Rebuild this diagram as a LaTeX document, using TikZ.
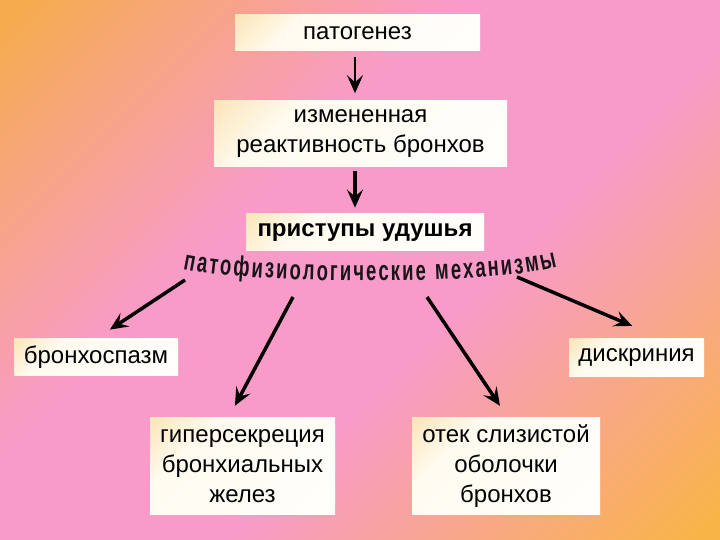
\documentclass[tikz,border=0pt]{standalone}
\usepackage{fontspec}
\setmainfont{Liberation Sans}
\newfontfamily\arcfont{Liberation Sans}[FakeStretch=0.66]
\usetikzlibrary{positioning,arrows.meta,decorations.text}
\definecolor{bgorange}{RGB}{246,172,78}
\definecolor{bgpink}{RGB}{248,155,200}
\definecolor{bgamber}{RGB}{249,180,72}
\definecolor{boxtint}{RGB}{251,228,182}
\definecolor{boxcream}{RGB}{255,251,240}
\definecolor{arcink}{RGB}{25,20,25}
\pgfdeclarehorizontalshading{slidebg}{100bp}{color(0bp)=(bgorange); color(16bp)=(bgorange); color(40bp)=(bgpink); color(58bp)=(bgpink); color(84bp)=(bgamber); color(100bp)=(bgamber)}
\pgfdeclarehorizontalshading{boxglow}{100bp}{color(0bp)=(boxtint); color(14bp)=(boxtint); color(32bp)=(boxcream); color(100bp)=(white)}

\begin{document}
\begin{tikzpicture}[
    x=1pt, y=1pt,
    box/.style={rectangle, shading=boxglow, shading angle=-45, align=center, inner sep=2pt, font=\fontsize{24}{30}\selectfont},
    arrow/.style={line width=3.5pt, -{Stealth[length=18pt, width=16pt, inset=7pt]}}
]
  % Background
  \shade [shading=slidebg, shading angle=-45] (0,0) rectangle (720,540);
  \useasboundingbox (0,0) rectangle (720,540);

  % Nodes
  \node (patog) [box, minimum width=245pt, minimum height=36pt] at (357.5,507) {патогенез};
  \node (reakt) [box, minimum width=293pt, minimum height=66pt, below=49pt of patog, xshift=3pt] {измененная\\реактивность бронхов};
  \node (prist) [box, minimum width=238pt, minimum height=37pt, below=47pt of reakt, xshift=4.5pt, font=\fontsize{24}{30}\selectfont\bfseries] {приступы удушья};

  \node (bspasm) [box, minimum width=164pt, minimum height=37pt] at (96,182.5) {бронхоспазм};
  \node (discr) [box, minimum width=135pt, minimum height=38pt] at (636.5,182) {дискриния};
  \node (hypers) [box, minimum width=185pt, minimum height=97pt] at (242.5,73.5) {гиперсекреция\\бронхиальных\\желез};
  \node (otek) [box, minimum width=188pt, minimum height=97pt] at (506,73.5) {отек слизистой\\оболочки\\бронхов};

  % Arc label
  \path [decorate, decoration={text along path, text align=fit to path, text color=arcink,
      text={|\arcfont\bfseries\fontsize{28}{28}\selectfont|патофизиологические механизмы}}]
    (183,271) .. controls (250,256) and (490,254) .. (557,273);
  \coordinate (m1) at (185,260);
  \coordinate (m2) at (293,243);
  \coordinate (m3) at (427,243);
  \coordinate (m4) at (517,263);

  % Arrows
  \draw [arrow, line width=2.5pt, shorten <=6pt, shorten >=7pt] ([xshift=-2.5pt]patog.south) -- ([xshift=-2.5pt]patog.south |- reakt.north);
  \draw [arrow, line width=4pt, shorten <=4pt, shorten >=6pt] ([xshift=-5.5pt]reakt.south) -- ([xshift=-5.5pt]reakt.south |- prist.north);
  \draw [arrow, shorten >=16.6pt] (m1) -- (bspasm.north);
  \draw [arrow, shorten >=13.6pt] (m2) -- ([xshift=-14pt]hypers.north);
  \draw [arrow, shorten >=14.4pt] (m3) -- ([xshift=2pt]otek.north);
  \draw [arrow, shorten >=33pt] (m4) -- ([xshift=26pt]discr.north);
\end{tikzpicture}
\end{document}
